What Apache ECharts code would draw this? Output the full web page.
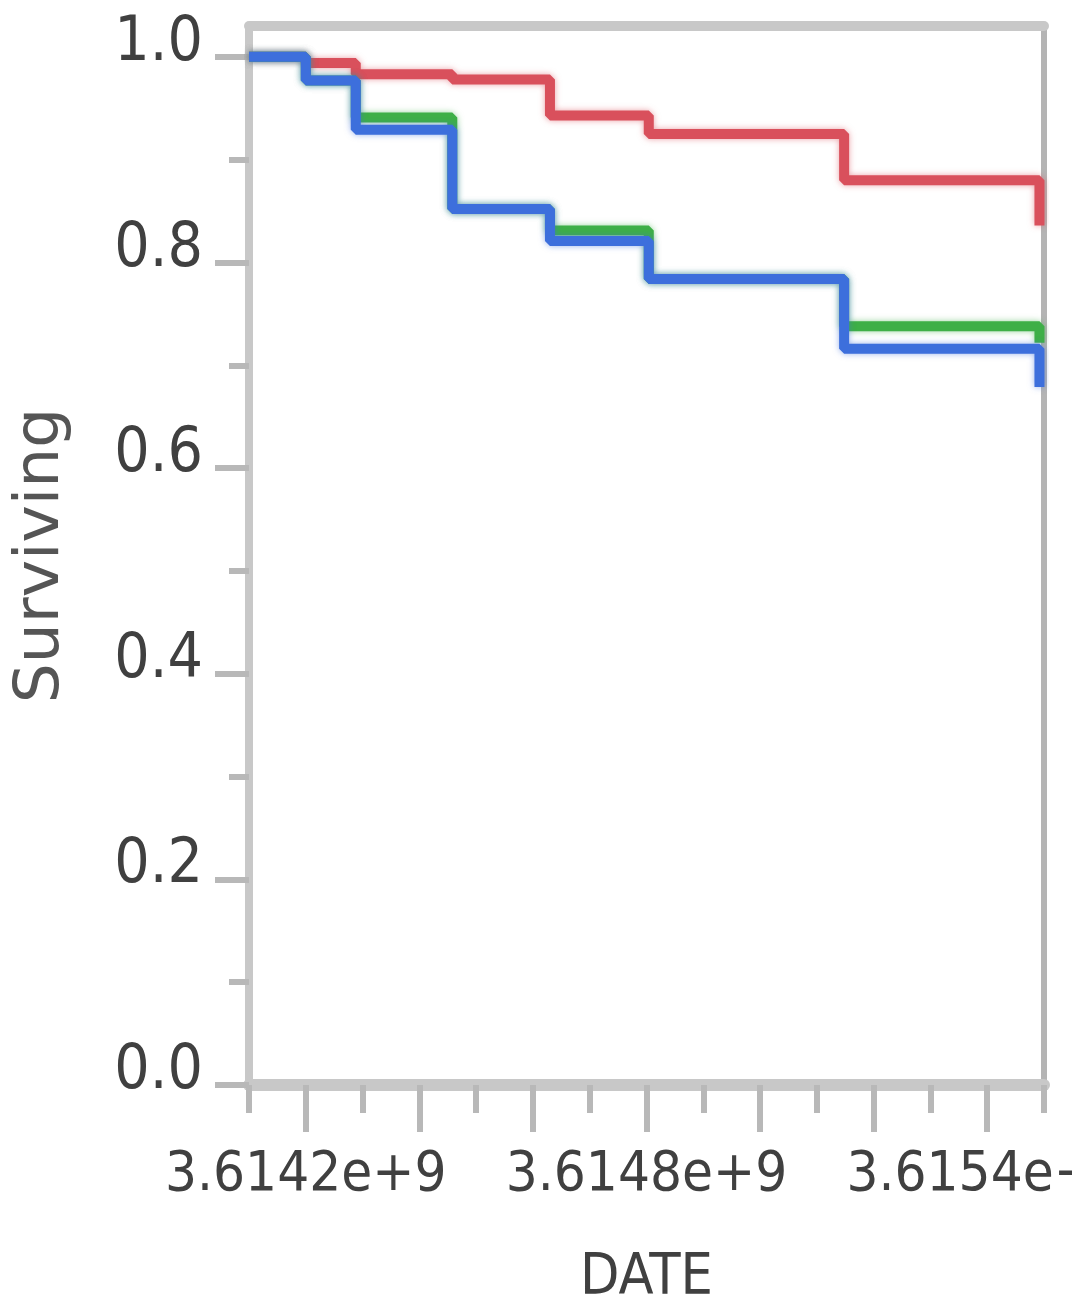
<!DOCTYPE html>
<html>
<head>
<meta charset="utf-8">
<script src="https://cdn.jsdelivr.net/npm/echarts@6/dist/echarts.min.js"></script>
<style>
html,body{margin:0;padding:0;background:#fff;}
#chart{width:1072px;height:1312px;}
</style>
</head>
<body>
<div id="chart"></div>
<script>
// ---- data ----
var stepTimes = [3.6141e9, 3.6142e9, 3.614288e9, 3.614458e9, 3.61463e9, 3.614804e9, 3.615148e9, 3.615492e9];
var redSurv   = [1.0, 0.994, 0.983, 0.978, 0.943, 0.925, 0.880, 0.836];
var greenSurv = [1.0, 0.977, 0.941, 0.852, 0.831, 0.784, 0.738, 0.722];
var blueSurv  = [1.0, 0.977, 0.929, 0.852, 0.821, 0.784, 0.716, 0.679];

var xLabelTicks = [3.6142e9, 3.6148e9, 3.6154e9];
var xMajorTicks = [3.6142e9, 3.6144e9, 3.6146e9, 3.6148e9, 3.615e9, 3.6152e9, 3.6154e9];
var xMinorTicks = [3.6141e9, 3.6143e9, 3.6145e9, 3.6147e9, 3.6149e9, 3.6151e9, 3.6153e9, 3.6155e9];
var yLabelTicks = [0, 0.2, 0.4, 0.6, 0.8, 1.0];
var yMinorTicks = [0.1, 0.3, 0.5, 0.7, 0.9];

function pairs(xs, ys){ return xs.map(function(x,i){ return [x, ys[i]]; }); }

var axisGray = '#c8c8c8';
var tickGray = '#b8b8b8';
var narrow = "'DejaVu Sans Condensed','Liberation Sans Narrow',sans-serif";
var xMin = 3.6141e9, xMax = 3.6155e9, yMin = 0, yMax = 1.03;

function lineSeries(ys, color){
  return {type: 'line', step: 'end', showSymbol: false, xAxisIndex: 0, yAxisIndex: 0,
    data: pairs(stepTimes, ys),
    lineStyle: {color: color, width: 10, shadowBlur: 6, shadowColor: color + '88'}};
}

var chart = echarts.init(document.getElementById('chart'), null, {renderer:'canvas'});
chart.setOption({
  animation: false,
  backgroundColor: '#ffffff',
  grid: {left: 249, right: 28, top: 26, bottom: 227, containLabel: false, outerBoundsMode: 'none'},
  xAxis: [
    {
      type: 'value', min: xMin, max: xMax, position: 'bottom',
      name: 'DATE', nameLocation: 'middle', nameGap: 166,
      nameTextStyle: {fontFamily: narrow, fontSize: 57, color: '#404040'},
      axisLine: {show: true, onZero: false, lineStyle: {color: axisGray, width: 12}},
      axisTick: {show: true, customValues: xMajorTicks, length: 47, lineStyle: {color: tickGray, width: 6}},
      axisLabel: {show: true, customValues: xLabelTicks, margin: 62, fontFamily: narrow, fontSize: 56, color: '#404040',
        showMinLabel: true, showMaxLabel: true, hideOverlap: false,
        formatter: function(v){ return (v/1e9).toFixed(4) + 'e+9'; }},
      splitLine: {show: false}
    },
    {
      type: 'value', min: xMin, max: xMax, position: 'bottom',
      axisLine: {show: false, onZero: false},
      axisTick: {show: true, customValues: xMinorTicks, length: 28, lineStyle: {color: tickGray, width: 6}},
      axisLabel: {show: false},
      splitLine: {show: false}
    },
    {
      type: 'value', min: xMin, max: xMax, position: 'top',
      axisLine: {show: true, onZero: false, lineStyle: {color: axisGray, width: 10}},
      axisTick: {show: false}, axisLabel: {show: false}, splitLine: {show: false}
    }
  ],
  yAxis: [
    {
      type: 'value', min: yMin, max: yMax, position: 'left',
      name: 'Surviving', nameLocation: 'middle', nameGap: 176, nameRotate: 90,
      nameTextStyle: {fontFamily: "'DejaVu Sans',sans-serif", fontSize: 63, color: '#555555'},
      axisLine: {show: true, onZero: false, lineStyle: {color: axisGray, width: 8}},
      axisTick: {show: true, customValues: yLabelTicks, length: 34, lineStyle: {color: tickGray, width: 6}},
      axisLabel: {show: true, customValues: yLabelTicks, margin: 46, fontFamily: narrow, fontSize: 62, color: '#404040',
        verticalAlign: 'bottom', lineHeight: 26, showMinLabel: true, showMaxLabel: true,
        formatter: function(v){ return v.toFixed(1); }},
      splitLine: {show: false}
    },
    {
      type: 'value', min: yMin, max: yMax, position: 'left',
      axisLine: {show: false, onZero: false},
      axisTick: {show: true, customValues: yMinorTicks, length: 20, lineStyle: {color: tickGray, width: 6}},
      axisLabel: {show: false}, splitLine: {show: false}
    },
    {
      type: 'value', min: yMin, max: yMax, position: 'right',
      axisLine: {show: true, onZero: false, lineStyle: {color: '#b4b4b4', width: 6}},
      axisTick: {show: false}, axisLabel: {show: false}, splitLine: {show: false}
    }
  ],
  series: [
    lineSeries(redSurv, '#d9505c'),
    lineSeries(greenSurv, '#3eaf47'),
    lineSeries(blueSurv, '#3d6fdc')
  ]
});
</script>
</body>
</html>
